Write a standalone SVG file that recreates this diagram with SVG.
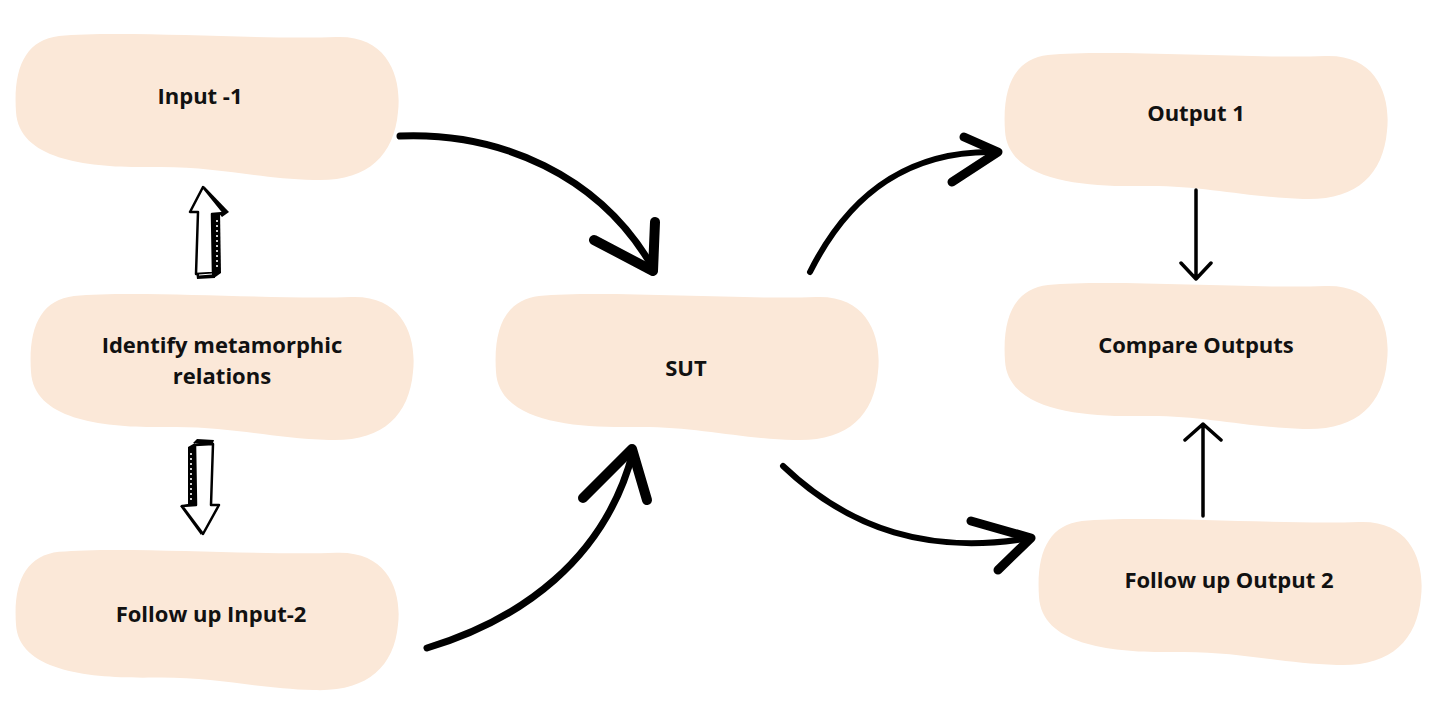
<svg xmlns="http://www.w3.org/2000/svg" xmlns:xlink="http://www.w3.org/1999/xlink" width="1436" height="710" viewBox="0 0 1436 710">
<style>
.blob{fill:#fbe8d8}
.lbl{font-family:"Open Sans","Liberation Sans",sans-serif;font-weight:700;font-size:22px;fill:#111;text-anchor:middle}
.brush{fill:none;stroke:#000;stroke-linecap:round;stroke-linejoin:round}
.thin{fill:none;stroke:#000;stroke-width:3.5;stroke-linecap:round;stroke-linejoin:round}
.hollow{fill:#fff;stroke:#000;stroke-width:2.5;stroke-linejoin:round}
.dots{stroke:#fff;stroke-width:1.6;stroke-dasharray:2 3;fill:none}
</style>
<defs>
<path id="blobShape" d="M45,4 C110,-2 250,8 322,5 C374,3 388,45 384,80 C380,125 352,150 300,148 C240,146 200,134 140,135 C80,136 5,130 2,80 C-1,35 12,8 45,4 Z"/>
</defs>
<rect width="1436" height="710" fill="#fff"/>
<g id="node-input1"><use xlink:href="#blobShape" class="blob" transform="translate(14,32)"/><text class="lbl" x="200" y="104">Input -1</text></g>
<g id="node-identify"><use xlink:href="#blobShape" class="blob" transform="translate(29,292)"/><text class="lbl" x="222" y="353">Identify metamorphic</text><text class="lbl" x="222" y="384">relations</text></g>
<g id="node-input2"><use xlink:href="#blobShape" class="blob" transform="translate(14,548) scale(1,0.96)"/><text class="lbl" x="211" y="622">Follow up Input-2</text></g>
<g id="node-sut"><use xlink:href="#blobShape" class="blob" transform="translate(494,292)"/><text class="lbl" x="686" y="376">SUT</text></g>
<g id="node-output1"><use xlink:href="#blobShape" class="blob" transform="translate(1003,51)"/><text class="lbl" x="1196" y="121">Output 1</text></g>
<g id="node-compare"><use xlink:href="#blobShape" class="blob" transform="translate(1003,281)"/><text class="lbl" x="1196" y="353">Compare Outputs</text></g>
<g id="node-output2"><use xlink:href="#blobShape" class="blob" transform="translate(1037,517)"/><text class="lbl" x="1229" y="588">Follow up Output 2</text></g>
<g id="connectors">
<path class="brush" stroke-width="7" d="M400,136 C500,132 600,175 653,268"/>
<path class="brush" stroke-width="10" d="M594,240 L653,271 L655,222"/>
<path class="brush" stroke-width="7" d="M427,648 C520,620 605,560 633,452"/>
<path class="brush" stroke-width="10" d="M583,498 L632,449 L647,500"/>
<path class="brush" stroke-width="6" d="M810,272 C850,192 910,150 996,152"/>
<path class="brush" stroke-width="9" d="M964,137 L998,152 L952,182"/>
<path class="brush" stroke-width="6" d="M783,466 C850,530 930,555 1030,538"/>
<path class="brush" stroke-width="9" d="M971,521 L1031,538 L998,570"/>
<path class="thin" d="M1196,190 V279 M1181,263 L1196,279 L1211,263"/>
<path class="thin" d="M1203,516 V424 M1185,440 L1203,424 L1221,440"/>
<g id="arrow-up">
<path d="M204,186 L229,212 L222,217 L210,203 Z" fill="#000"/>
<path d="M211,214 L220,211 L221,273 L214,278 Z" fill="#000"/>
<path d="M196,271 L214,270 L215,278 L197,279 Z" fill="#000"/>
<path class="hollow" d="M203,187 L190,212 L198,212 L196,274 L213,273 L212,214 L224,213 Z"/>
<path class="dots" d="M217,220 V270"/>
<path d="M199,275 L212,274" stroke="#fff" stroke-width="1"/>
</g>
<g id="arrow-down">
<path d="M193,443 L197,439 L214,440 L212,446 Z" fill="#000"/>
<path d="M188,447 L195,443 L196,505 L188,507 Z" fill="#000"/>
<path d="M180,506 L188,504 L203,530 L201,535 Z" fill="#000"/>
<path class="hollow" d="M195,445 L213,444 L211,505 L219,505 L203,534 L182,506 L196,505 Z"/>
<path class="dots" d="M191,453 V502"/>
</g>
</g>
</svg>
